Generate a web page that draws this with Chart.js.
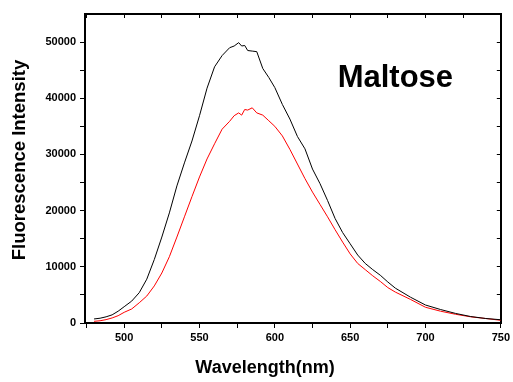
<!DOCTYPE html>
<html>
<head>
<meta charset="utf-8">
<script src="https://cdn.jsdelivr.net/npm/chart.js@4/dist/chart.umd.min.js"></script>
<style>
  body { margin: 0; background: #fff; }
  #wrap { width: 513px; height: 382px; }
</style>
</head>
<body>
<div id="wrap"><canvas id="spectrum"></canvas></div>
<script>
// wavelength (nm) and intensities
const wavelengths = [480, 484, 488, 492, 496, 500, 505, 510, 515, 520, 525, 530, 535, 540, 545, 550, 555, 560, 565, 570,
    573, 576, 578, 580, 582, 585, 588, 592, 596, 600, 605, 610, 615, 620, 625, 630, 635, 640, 645, 650,
    655, 660, 665, 670, 675, 680, 690, 700, 710, 720, 730, 740, 750]
const blackCurve = [720, 850, 1100, 1450, 2100, 2900, 3900, 5400, 7800, 11300, 15300, 19600, 24400, 28500, 32400, 36900, 41800, 45600, 47600, 49000,
    49300, 49900, 49300, 49400, 48500, 48400, 48300, 45300, 43700, 41900, 38900, 36300, 33200, 31000, 27400, 24800, 21800, 18600, 16100, 14100,
    12100, 10600, 9500, 8500, 7300, 6200, 4600, 3200, 2400, 1700, 1150, 800, 580]
const redCurve = [300, 400, 600, 900, 1300, 1900, 2500, 3600, 4800, 6600, 8900, 11800, 15300, 18900, 22500, 26000, 29200, 31900, 34500, 35900,
    36900, 37400, 37000, 38000, 37900, 38300, 37400, 37000, 36000, 35000, 33300, 30900, 28300, 25700, 23300, 21100, 18900, 16600, 14400, 12300,
    10600, 9500, 8400, 7400, 6300, 5500, 4200, 2800, 2100, 1550, 1100, 800, 480]

const xTicks = [475, 500, 525, 550, 575, 600, 625, 650, 675, 700, 725, 750]
const yTicks = [0, 5000, 10000, 15000, 20000, 25000, 30000, 35000, 40000, 45000, 50000]

const FONT = '"Liberation Sans", Arial, sans-serif'
Chart.defaults.font.family = FONT
Chart.defaults.color = "#000"

function setTicks(list) {
    return scale => { scale.ticks = list.map(v => ({ value: v })) }
}

// axis titles and the sample name
const textPlugin = {
    id: "texts",
    afterDraw(c) {
        const ctx = c.ctx
        ctx.save()
        ctx.fillStyle = "#000"
        ctx.textAlign = "center"
        ctx.textBaseline = "middle"
        ctx.font = "bold 18px " + FONT
        ctx.fillText("Wavelength(nm)", 265, 368)
        ctx.translate(20, 160)
        ctx.rotate(-Math.PI / 2)
        ctx.font = "bold 18.5px " + FONT
        ctx.fillText("Fluorescence Intensity", 0, 0)
        ctx.restore()

        ctx.save()
        ctx.fillStyle = "#000"
        ctx.textAlign = "center"
        ctx.textBaseline = "middle"
        ctx.font = "bold 31px " + FONT
        ctx.fillText("Maltose", c.scales.x.getPixelForValue(680), c.scales.y.getPixelForValue(43500))
        ctx.restore()
    }
}

const ctx = document.getElementById("spectrum").getContext("2d")
new Chart(ctx, {
    type: "line",
    data: {
        datasets: [
            {
                data: wavelengths.map((w, i) => ({ x: w, y: blackCurve[i] })),
                borderColor: "#000",
                borderWidth: 1,
                pointRadius: 0,
            },
            {
                data: wavelengths.map((w, i) => ({ x: w, y: redCurve[i] })),
                borderColor: "#ff0000",
                borderWidth: 1,
                pointRadius: 0,
            },
        ],
    },
    options: {
        responsive: true,
        maintainAspectRatio: false,
        animation: false,
        layout: { padding: 0 },
        plugins: { legend: { display: false }, tooltip: { enabled: false } },
        scales: {
            x: {
                type: "linear",
                min: 474,
                max: 750,
                afterBuildTicks: setTicks(xTicks),
                afterFit: s => { s.height = 59 },
                border: { color: "#000", width: 2 },
                grid: { drawOnChartArea: false, color: "#000", tickLength: 5, tickWidth: 1 },
                ticks: {
                    autoSkip: false,
                    maxRotation: 0,
                    padding: 3,
                    font: { size: 11, weight: "bold" },
                    callback: v => (v % 50 === 0 ? String(v) : ""),
                },
            },
            x2: {
                type: "linear",
                position: "top",
                min: 474,
                max: 750,
                afterBuildTicks: setTicks(xTicks),
                afterFit: s => { s.height = 14 },
                border: { color: "#000", width: 2 },
                grid: { drawOnChartArea: false, color: "#000", tickLength: -4, tickWidth: 1 },
                ticks: { display: false },
            },
            y: {
                min: 0,
                max: 55000,
                afterBuildTicks: setTicks(yTicks),
                afterFit: s => { s.width = 85 },
                border: { color: "#000", width: 2 },
                grid: { drawOnChartArea: false, color: "#000", tickLength: 5, tickWidth: 1 },
                ticks: {
                    autoSkip: false,
                    padding: 4,
                    font: { size: 11, weight: "bold" },
                    callback: v => (v % 10000 === 0 ? String(v) : ""),
                },
            },
            y2: {
                position: "right",
                min: 0,
                max: 55000,
                afterBuildTicks: setTicks(yTicks),
                afterFit: s => { s.width = 10 },
                border: { color: "#000", width: 2 },
                grid: { drawOnChartArea: false, color: "#000", tickLength: -4, tickWidth: 1 },
                ticks: { display: false },
            },
        },
    },
    plugins: [textPlugin],
})
</script>
</body>
</html>
